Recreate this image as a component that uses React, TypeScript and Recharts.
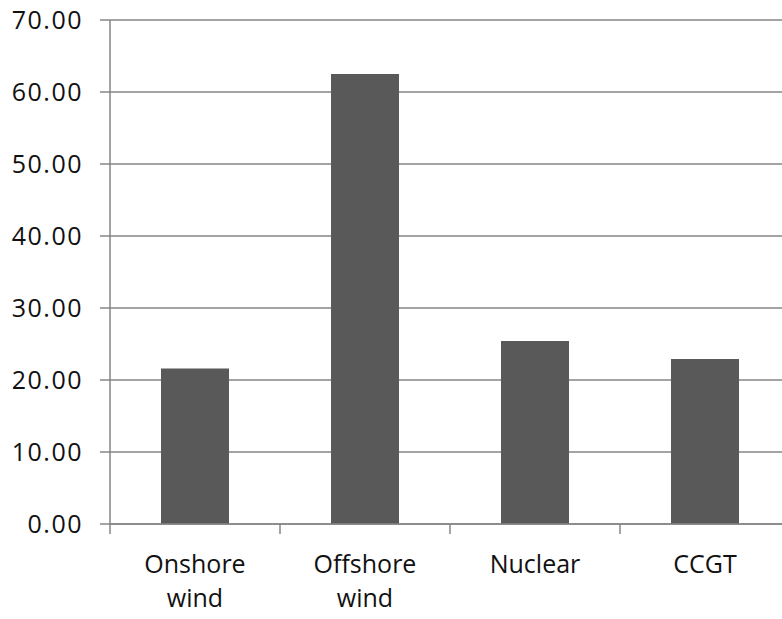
import { BarChart, Bar, XAxis, YAxis, CartesianGrid } from 'recharts';

const categories = ['Onshore wind', 'Offshore wind', 'Nuclear', 'CCGT'];
const costs = [21.6, 62.5, 25.4, 22.9];
const yTicks = [0, 10, 20, 30, 40, 50, 60, 70];

const data = categories.map((name, i) => ({ name, value: costs[i] }));

const GRID = '#868686';
const FONT = '"Open Sans", sans-serif';

const CategoryTick = (props: any) => {
  const { x, y, payload } = props;
  const half = 85;
  const words = String(payload.value).split(' ');
  return (
    <g>
      <line x1={x - half} y1={y} x2={x - half} y2={y + 10} stroke={GRID} strokeWidth={1.5} />
      <text x={x} y={y + 49} textAnchor="middle" fill="#111" style={{ fontFamily: FONT, fontSize: 25 }}>
        {words.map((w, i) => (
          <tspan key={i} x={x} dy={i === 0 ? 0 : 34}>{w}</tspan>
        ))}
      </text>
    </g>
  );
};

export default function App() {
  return (
    <div style={{ position: 'absolute', left: 0, top: 0, width: 782, height: 619, overflow: 'hidden', background: '#fff' }}>
      <BarChart width={790} height={619} data={data} margin={{ top: 20, right: 0, left: 0, bottom: 0 }}>
        <CartesianGrid vertical={false} stroke={GRID} strokeWidth={1.5} />
        <XAxis
          dataKey="name"
          height={95}
          interval={0}
          tickSize={0}
          tickMargin={0}
          tickLine={false}
          axisLine={{ stroke: GRID, strokeWidth: 1.5 }}
          tick={<CategoryTick />}
        />
        <YAxis
          width={110}
          domain={[0, 70]}
          ticks={yTicks}
          interval={0}
          tickFormatter={(v: number) => v.toFixed(2)}
          tickSize={10}
          tickMargin={17}
          tickLine={{ stroke: GRID, strokeWidth: 1.5 }}
          axisLine={{ stroke: GRID, strokeWidth: 1.5 }}
          tick={{ fill: '#111', fontFamily: FONT, fontSize: 25, letterSpacing: 1.5 }}
        />
        <Bar dataKey="value" fill="#595959" barSize={68} isAnimationActive={false} />
      </BarChart>
    </div>
  );
}
